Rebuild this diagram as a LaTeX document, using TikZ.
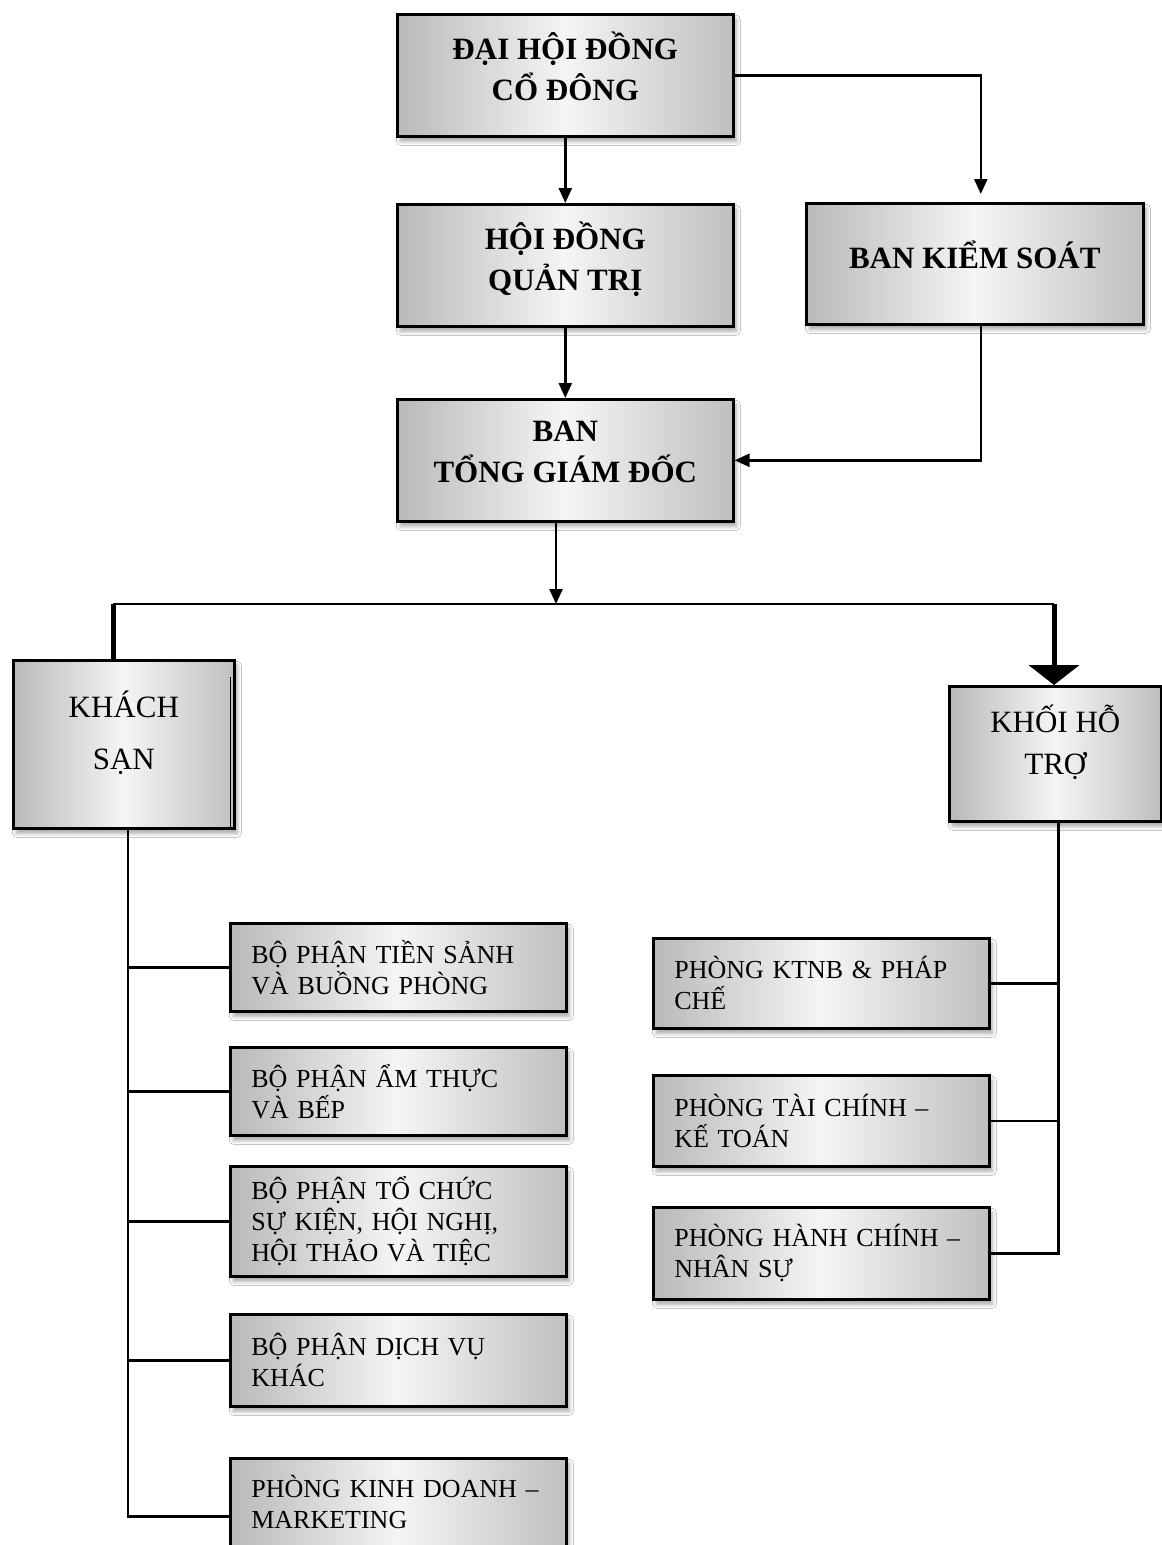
\documentclass[tikz,border=0pt]{standalone}
\usepackage{fontspec}
\setmainfont{Liberation Serif}
\usetikzlibrary{arrows.meta,shadows.blur}
\begin{document}
\begin{tikzpicture}[x=1pt,y=-1pt,
  box/.style={draw=black, line width=2.6pt, left color=gray!55, right color=gray!50, middle color=gray!8,
    blur shadow={shadow xshift=3pt, shadow yshift=-5pt, shadow blur radius=4pt, shadow opacity=35},
    anchor=north west, inner sep=0pt},
  mainbox/.style={box, font=\fontsize{31}{41}\selectfont\bfseries, align=center, text depth=18pt},
  unitbox/.style={box, font=\fontsize{31}{42}\selectfont, align=center, text depth=28pt},
  subbox/.style={box, font=\fontsize{26}{31}\selectfont, align=left, text width=294pt, inner xsep=21pt},
  conn/.style={line width=2.4pt},
  arr/.style={conn, -{Triangle[width=13pt,length=15pt]}}
]
\fill[white] (0,0) rectangle (1162,1545);
\useasboundingbox (0,0) rectangle (1162,1545);

% top level
\node[mainbox, minimum width=336pt, minimum height=122pt] (dh) at (396,13) {ĐẠI HỘI ĐỒNG\\CỔ ĐÔNG};
\node[mainbox, minimum width=336pt, minimum height=122pt] (hd) at (396,203) {HỘI ĐỒNG\\QUẢN TRỊ};
\node[mainbox, minimum width=337pt, minimum height=121pt] (bks) at (805,202) {BAN KIỂM SOÁT};
\node[mainbox, minimum width=336pt, minimum height=122pt] (tgd) at (396,398) {BAN\\TỔNG GIÁM ĐỐC};

% units
\node[unitbox, minimum width=221pt, minimum height=168pt] (ks) at (12,659) {KHÁCH\\[10pt]SẠN};
\node[unitbox, minimum width=212pt, minimum height=135pt] (kh) at (948,685) {KHỐI HỖ\\TRỢ};
\draw[line width=1.4pt] ([xshift=-5pt,yshift=-18pt]ks.north east) -- ([xshift=-5pt]ks.south east);

% hotel departments
\node[subbox, minimum height=88pt] (b1) at (229,922) {BỘ PHẬN TIỀN SẢNH\\VÀ BUỒNG PHÒNG};
\node[subbox, minimum height=88pt] (b2) at (229,1046) {BỘ PHẬN ẨM THỰC\\VÀ BẾP};
\node[subbox, minimum height=110pt] (b3) at (229,1165) {BỘ PHẬN TỔ CHỨC\\SỰ KIỆN, HỘI NGHỊ,\\HỘI THẢO VÀ TIỆC};
\node[subbox, minimum height=92pt] (b4) at (229,1313) {BỘ PHẬN DỊCH VỤ\\KHÁC};
\node[subbox, minimum height=88pt] (b5) at (229,1457) {PHÒNG KINH DOANH –\\MARKETING};

% support departments
\node[subbox, minimum height=90pt] (p1) at (652,937) {PHÒNG KTNB \& PHÁP\\CHẾ};
\node[subbox, minimum height=91pt] (p2) at (652,1074) {PHÒNG TÀI CHÍNH –\\KẾ TOÁN};
\node[subbox, minimum height=92pt] (p3) at (652,1206) {PHÒNG HÀNH CHÍNH –\\NHÂN SỰ};

% connectors top
\draw[arr] (dh.south) -- (hd.north);
\draw[arr] (hd.south) -- (tgd.north);
\draw[arr, shorten >=8pt] (dh.east) -| ([xshift=6pt]bks.north);
\draw[arr] ([xshift=6pt]bks.south) |- (tgd.east);

\coordinate (busL) at (113,604);
\coordinate (busM) at (556,604);
\coordinate (busR) at (1054,604);
\draw[arr] (tgd.south -| busM) -- (busM);
\draw[conn] (busL) -- (busR);
\draw[line width=5pt] (busL) -- (busL |- ks.north);
\draw[line width=5pt, -{Triangle[width=50pt,length=20pt]}] (busR) -- (busR |- kh.north);

% left tree
\coordinate (lt) at ([xshift=4pt]ks.south);
\draw[conn] (lt) |- ([yshift=-14pt]b5.west);
\foreach \b in {b1,b2,b3,b4} \draw[conn] (\b.west) -- (\b.west -| lt);

% right tree
\coordinate (rt) at ([xshift=3pt]kh.south);
\draw[conn] (rt) |- (p3.east);
\foreach \p in {p1,p2} \draw[conn] (\p.east) -- (\p.east -| rt);
\end{tikzpicture}
\end{document}
